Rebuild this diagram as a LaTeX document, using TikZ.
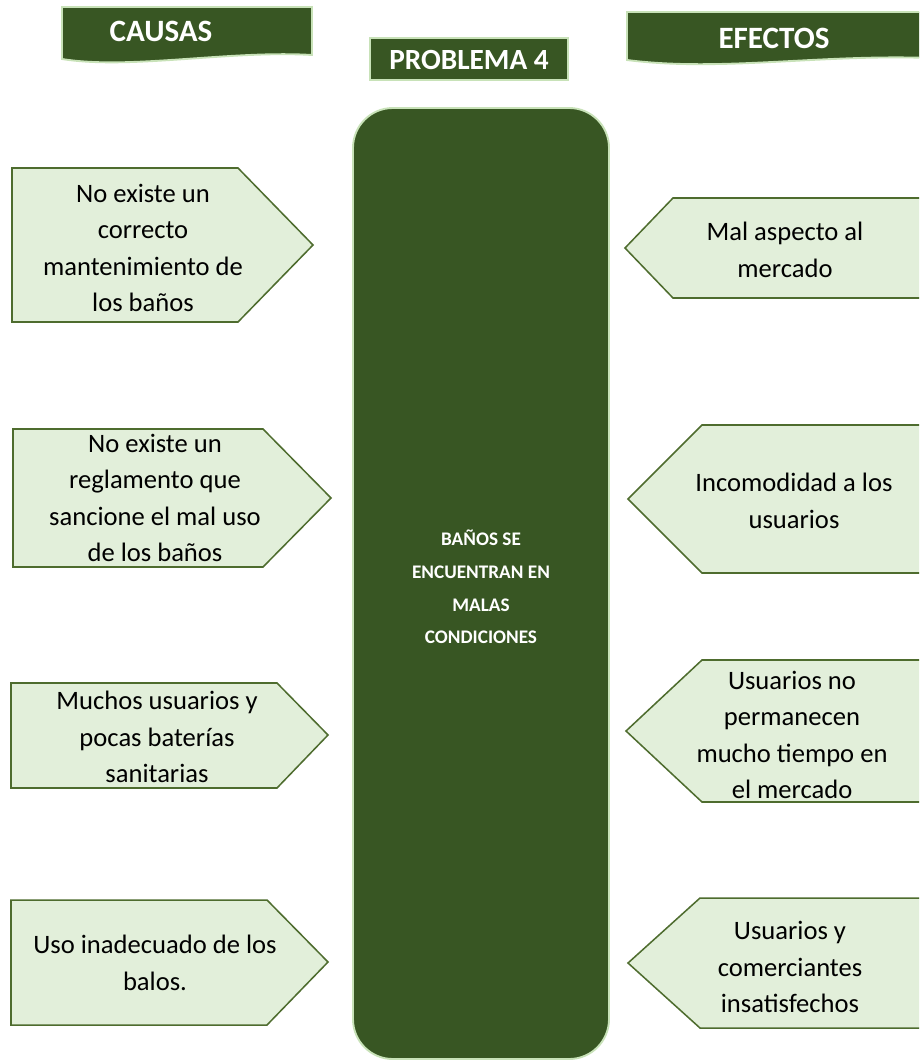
\documentclass[tikz,border=0pt]{standalone}
\usepackage{fontspec}
\setmainfont{Carlito}
\definecolor{verdeosc}{RGB}{56,86,35}
\definecolor{verdecla}{RGB}{226,239,218}
\definecolor{bordeclaro}{RGB}{200,226,184}
\definecolor{bordecaja}{RGB}{78,108,46}
\tikzset{
  titulo/.style={fill=verdeosc, draw=bordeclaro, line width=1.6pt},
  caja/.style={fill=verdecla, draw=bordecaja, line width=1.3pt, line join=miter},
  textocaja/.style={align=center, font=\fontsize{22.7}{31}\selectfont, inner sep=0pt},
  textotitulo/.style={text=white, font=\bfseries\fontsize{26.5}{30}\selectfont, inner sep=0pt},
}
\begin{document}
\begin{tikzpicture}[x=0.03cm, y=-0.03cm]
        \clip (0,0) rectangle (919,1064);
        \fill[white] (0,0) rectangle (919,1064);

        % Titles
        \path[titulo] (62,7) -- (312,7) -- (312,55) .. controls (230,50) and (130,70) .. (62,59) -- cycle;
        \node[textotitulo] (causas) at (161,31) {CAUSAS};
        \path[titulo] (370,38) rectangle (568,80);
        \node[textotitulo, font=\bfseries\fontsize{25}{30}\selectfont] (problema) at (469,60) {PROBLEMA 4};
        \path[titulo] (627,12) -- (930,12) -- (930,58) .. controls (820,54) and (720,72) .. (627,60) -- cycle;
        \node[textotitulo] (efectos) at (774,38) {EFECTOS};

        % Central problem
        \path[fill=verdeosc, draw=bordeclaro, line width=1.6pt, rounded corners=34pt] (353,108) rectangle (609,1059);
        \node[text=white, align=center, font=\bfseries\fontsize{16.4}{28}\selectfont, inner sep=0pt] (problema central) at (481,587)
            {BAÑOS SE\\ENCUENTRAN EN\\MALAS\\CONDICIONES};

        % Causes side
        \begin{scope}
            \path[caja] (12,168) -- (238,168) -- (313,245) -- (238,322) -- (12,322) -- cycle;
            \node[textocaja] (causa1) at (143,248) {No existe un\\correcto\\mantenimiento de\\los baños};
            \path[caja] (13,429) -- (263,429) -- (331,498) -- (263,567) -- (13,567) -- cycle;
            \node[textocaja] (causa2) at (155,498) {No existe un\\reglamento que\\sancione el mal uso\\de los baños};
            \path[caja] (11,683) -- (277,683) -- (328,735) -- (277,788) -- (11,788) -- cycle;
            \node[textocaja] (causa3) at (157,737) {Muchos usuarios y\\pocas baterías\\sanitarias};
            \path[caja] (11,900) -- (267,900) -- (328,962) -- (267,1025) -- (11,1025) -- cycle;
            \node[textocaja] (causa4) at (155,963) {Uso inadecuado de los\\balos.};
        \end{scope}

        % Effects side
        \begin{scope}
            \path[caja] (930,198) -- (673,198) -- (625,248) -- (673,298) -- (930,298) -- cycle;
            \node[textocaja] (efecto1) at (785,250) {Mal aspecto al\\mercado};
            \path[caja] (930,425) -- (702,425) -- (628,499) -- (702,573) -- (930,573) -- cycle;
            \node[textocaja] (efecto2) at (794,501) {Incomodidad a los\\usuarios};
            \path[caja] (930,660) -- (702,660) -- (626,731) -- (702,802) -- (930,802) -- cycle;
            \node[textocaja] (efecto3) at (792,735) {Usuarios no\\permanecen\\mucho tiempo en\\el mercado};
            \path[caja] (930,898) -- (700,898) -- (628,963) -- (700,1028) -- (930,1028) -- cycle;
            \node[textocaja] (efecto4) at (790,967) {Usuarios y\\comerciantes\\insatisfechos};
        \end{scope}
    \end{tikzpicture}
\end{document}
